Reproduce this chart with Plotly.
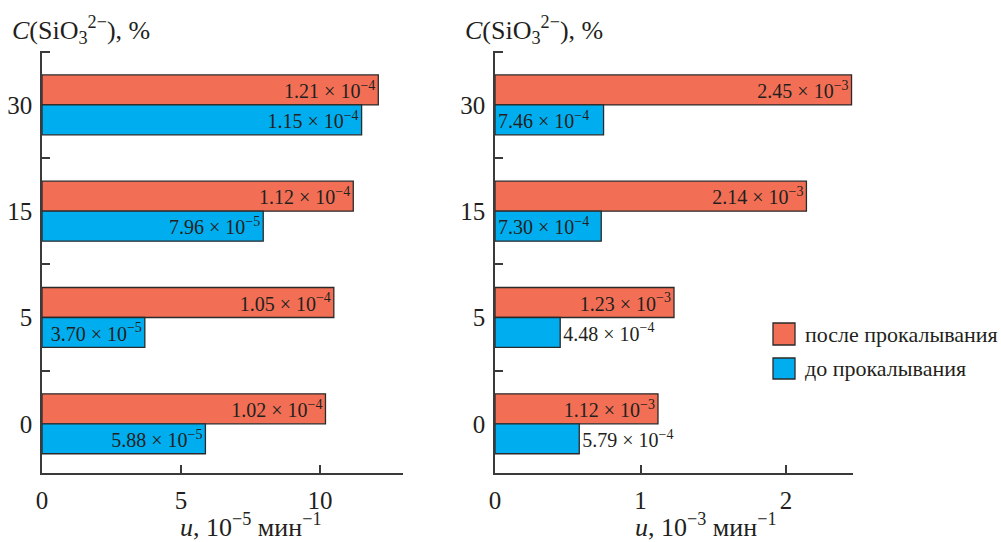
import plotly.graph_objects as go

# ---- data ----
categories = ["0", "5", "15", "30"]
cat_pos = [0, 1, 2, 3]

left_after = [10.2, 10.5, 11.2, 12.1]          # 10^-5 min^-1
left_before = [5.88, 3.70, 7.96, 11.5]
left_after_txt = ["1.02 × 10<sup>−4</sup>", "1.05 × 10<sup>−4</sup>", "1.12 × 10<sup>−4</sup>", "1.21 × 10<sup>−4</sup>"]
left_before_txt = ["5.88 × 10<sup>−5</sup>", "3.70 × 10<sup>−5</sup>", "7.96 × 10<sup>−5</sup>", "1.15 × 10<sup>−4</sup>"]

right_after = [1.12, 1.23, 2.14, 2.45]          # 10^-3 min^-1
right_before = [0.579, 0.448, 0.730, 0.746]
right_after_txt = ["1.12 × 10<sup>−3</sup>", "1.23 × 10<sup>−3</sup>", "2.14 × 10<sup>−3</sup>", "2.45 × 10<sup>−3</sup>"]
right_before_txt = ["5.79 × 10<sup>−4</sup>", "4.48 × 10<sup>−4</sup>", "7.30 × 10<sup>−4</sup>", "7.46 × 10<sup>−4</sup>"]
right_before_pos = ["outside", "outside", "inside", "inside"]

series_names = ["после прокалывания", "до прокалывания"]
COL_AFTER = "#F26F55"
COL_BEFORE = "#00AEEF"
EDGE = "#2a2a2a"
AX = "#3a3a3a"
FONT = "Liberation Serif"
TXT = "#231F20"

W, H = 1001, 542
ML, MR, MT, MB = 42, 148, 51, 69
PW, PH = W - ML - MR, H - MT - MB


def px(x):
    return (x - ML) / PW


def py(y):
    return (H - MB - y) / PH


BW = 0.282

fig = go.Figure()


def add_bars(vals, txt, color, offset, xa, ya, name, tpos, anchor):
    fig.add_trace(go.Bar(
        x=vals, y=cat_pos, orientation="h", name=name,
        width=BW, offset=offset,
        marker=dict(color=color, line=dict(color=EDGE, width=1.3)),
        text=txt, textposition=tpos, insidetextanchor=anchor,
        constraintext="none", textangle=0, cliponaxis=False,
        textfont=dict(family=FONT, size=20, color=TXT),
        xaxis=xa, yaxis=ya, showlegend=False, hoverinfo="skip",
    ))


add_bars(left_after, left_after_txt, COL_AFTER, 0, "x", "y", series_names[0], "inside", "end")
add_bars(left_before, left_before_txt, COL_BEFORE, -BW, "x", "y", series_names[1], "inside", "end")
add_bars(right_after, right_after_txt, COL_AFTER, 0, "x2", "y2", series_names[0], "inside", "end")
add_bars(right_before, right_before_txt, COL_BEFORE, -BW, "x2", "y2", series_names[1], right_before_pos, "start")

yaxis_common = dict(
    range=[-0.463, 3.507], tickmode="array", tickvals=cat_pos, ticktext=categories,
    ticks="", showline=True, linecolor=AX, linewidth=1.5, showgrid=False, zeroline=False,
    tickfont=dict(family=FONT, size=25, color=TXT), ticklabelstandoff=3, automargin=False,
    minor=dict(tickmode="array", tickvals=[0.5, 1.5, 2.5, 3.5], ticks="inside",
               ticklen=8, tickwidth=1.5, tickcolor=AX, showgrid=False),
)
xaxis_common = dict(
    ticks="inside", ticklen=8, tickwidth=1.5, tickcolor=AX, automargin=False,
    showline=True, linecolor=AX, linewidth=1.5, showgrid=False, zeroline=False,
    tickfont=dict(family=FONT, size=25, color=TXT), ticklabelstandoff=4,
)

fig.update_layout(
    width=W, height=H,
    margin=dict(l=ML, r=MR, t=MT, b=MB, autoexpand=False),
    paper_bgcolor="white", plot_bgcolor="white",
    barmode="overlay", showlegend=False,
    font=dict(family=FONT, color=TXT),
    xaxis=dict(domain=[0, px(403.3)], range=[0, 13], tickvals=[0, 5, 10], anchor="y", **xaxis_common),
    yaxis=dict(domain=[0, 1], anchor="x", **yaxis_common),
    xaxis2=dict(domain=[px(495), 1], range=[0, 2.46], tickvals=[0, 1, 2], anchor="y2", **xaxis_common),
    yaxis2=dict(domain=[0, 1], anchor="x2", **yaxis_common),
)

# axis titles
fig.add_annotation(text="<i>u</i>, 10<sup>−5</sup> мин<sup>−1</sup>", xref="paper", yref="paper",
                   x=px(251), y=py(525), xanchor="center", yanchor="middle", showarrow=False,
                   font=dict(family=FONT, size=26, color=TXT))
fig.add_annotation(text="<i>u</i>, 10<sup>−3</sup> мин<sup>−1</sup>", xref="paper", yref="paper",
                   x=px(706), y=py(525), xanchor="center", yanchor="middle", showarrow=False,
                   font=dict(family=FONT, size=26, color=TXT))
for x0 in (10, 463):
    fig.add_annotation(text="<i>C</i>(SiO<sub>3</sub><sup>2−</sup>), %", xref="paper", yref="paper",
                       x=px(x0), y=py(30), xanchor="left", yanchor="middle", showarrow=False,
                       font=dict(family=FONT, size=26, color=TXT))

# legend
for (y0, y1, col, name) in [(323, 345, COL_AFTER, series_names[0]), (358, 379, COL_BEFORE, series_names[1])]:
    fig.add_shape(type="rect", xref="paper", yref="paper", x0=px(773), x1=px(795), y0=py(y1), y1=py(y0),
                  fillcolor=col, line=dict(color=EDGE, width=1.3))
    fig.add_annotation(text=name, xref="paper", yref="paper", x=px(803), y=py((y0 + y1) / 2),
                       xanchor="left", yanchor="middle", showarrow=False,
                       font=dict(family=FONT, size=22, color=TXT))

fig.write_html("out.html", config={"displayModeBar": False},
               post_script="document.body.style.margin='0';document.body.style.overflow='hidden';")
